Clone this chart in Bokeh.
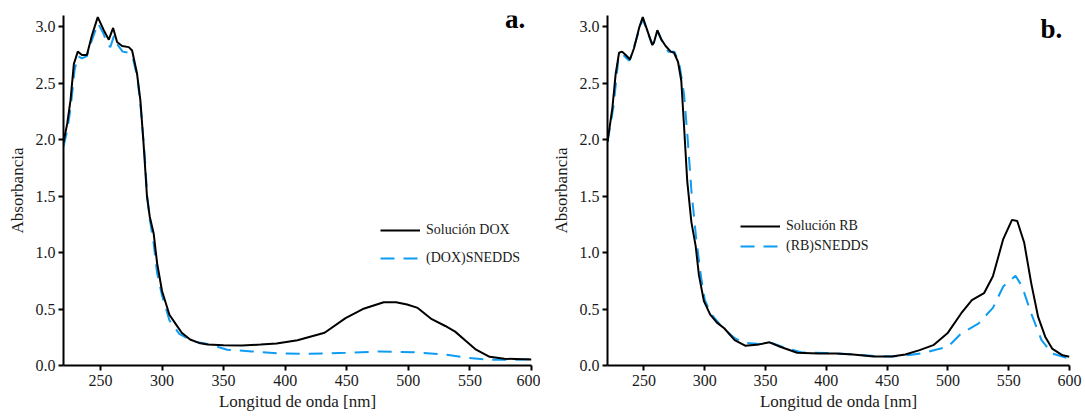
from bokeh.plotting import figure
from bokeh.layouts import row
from bokeh.models import Legend, LegendItem, Label, FixedTicker, PrintfTickFormatter, Range1d
from bokeh.embed import file_html
from bokeh.resources import INLINE

# ---- Panel a: DOX ----
wl_dox_sol = [220, 223, 225.7, 228.4, 231.6, 235, 239, 243, 247.8, 252.7, 256.8, 260.3, 263.5, 267.6,
              273, 275.7, 279.7, 282.4, 285, 287.8, 290, 293.2, 296, 300, 306, 311.6, 316, 322.8, 330,
              337, 350, 365, 380, 393, 410, 432, 449, 463, 480, 490, 499, 507.6, 519, 530, 538, 547,
              555, 566, 578, 600]
abs_dox_sol = [1.98, 2.14, 2.35, 2.67, 2.78, 2.75, 2.75, 2.92, 3.086, 2.97, 2.886, 2.99, 2.865, 2.83,
               2.82, 2.79, 2.586, 2.35, 1.967, 1.496, 1.32, 1.17, 0.907, 0.66, 0.45, 0.36, 0.29, 0.23, 0.2,
               0.186, 0.18, 0.177, 0.185, 0.195, 0.224, 0.29, 0.42, 0.5, 0.56, 0.56, 0.54, 0.51, 0.41,
               0.35, 0.30, 0.215, 0.14, 0.077, 0.06, 0.053]
wl_dox_sn = [220, 223, 226, 229, 232, 235, 239, 243, 248, 252, 256, 258, 261, 264, 268, 273, 276, 280,
             283, 286, 288, 290, 293, 296, 300, 306, 314, 325, 337, 353, 373, 398, 420, 449, 477, 505,
             530, 547, 566, 580, 600]
abs_dox_sn = [1.94, 2.08, 2.3, 2.62, 2.74, 2.72, 2.74, 2.88, 3.03, 2.95, 2.84, 2.82, 2.92, 2.84, 2.78,
              2.77, 2.74, 2.55, 2.25, 1.85, 1.5, 1.3, 1.1, 0.82, 0.62, 0.40, 0.28, 0.215, 0.19, 0.14,
              0.124, 0.106, 0.103, 0.112, 0.124, 0.118, 0.097, 0.07, 0.05, 0.05, 0.055]

# ---- Panel b: RB ----
wl_rb_sol = [220, 224, 226.7, 229.5, 232, 235, 238.5, 241.8, 246, 249, 253, 256.8, 258.2, 261, 264.2,
             267.8, 272, 274.7, 278, 280.7, 282.9, 285.6, 289, 292.5, 295.2, 299.3, 304.5, 310, 316,
             324.6, 333.2, 344.7, 353.3, 362, 376, 393.5, 407.8, 422, 439, 453.7, 465, 476.7, 488,
             499.6, 511, 519.7, 529.7, 537, 545.5, 552.7, 557, 562.7, 568.5, 574.2, 580, 585.7, 594.3, 600]
abs_rb_sol = [1.98, 2.28, 2.58, 2.77, 2.78, 2.75, 2.71, 2.81, 2.99, 3.086, 2.96, 2.84, 2.86, 2.97, 2.89,
              2.83, 2.78, 2.77, 2.69, 2.52, 2.13, 1.63, 1.27, 1.06, 0.80, 0.57, 0.45, 0.38, 0.33,
              0.225, 0.175, 0.187, 0.205, 0.166, 0.113, 0.107, 0.107, 0.098, 0.08, 0.08, 0.098, 0.136,
              0.18, 0.285, 0.463, 0.58, 0.64, 0.79, 1.12, 1.29, 1.28, 1.09, 0.73, 0.43, 0.255, 0.15,
              0.09, 0.077]
wl_rb_sn = [220, 225, 229, 232, 238, 242, 249, 253, 257, 261, 265, 270, 275, 279, 283, 286, 289, 293,
            297, 300, 305, 315, 325, 333, 345, 355, 365, 380, 400, 420, 440, 455, 470, 480, 490, 500,
            511, 525, 537, 545.5, 555.6, 561, 568.5, 577, 585.7, 600]
abs_rb_sn = [1.98, 2.3, 2.72, 2.76, 2.70, 2.83, 3.07, 2.95, 2.84, 2.96, 2.87, 2.78, 2.78, 2.68, 2.4,
             2.0, 1.55, 1.12, 0.78, 0.58, 0.46, 0.33, 0.24, 0.2, 0.19, 0.2, 0.16, 0.115, 0.11, 0.1,
             0.085, 0.08, 0.095, 0.11, 0.14, 0.166, 0.285, 0.37, 0.51, 0.70, 0.795, 0.70, 0.46, 0.225,
             0.107, 0.06]

x_ticks = [250, 300, 350, 400, 450, 500, 550, 600]
y_ticks = [0.0, 0.5, 1.0, 1.5, 2.0, 2.5, 3.0]

FONT = "Liberation Serif, serif"
BLUE = "#0E9CF2"


def panel(wa, ya, wb, yb, name_a, name_b, tag, tag_x, tag_y, leg_loc, leg_spacing,
          width, bl, br, bt, bb):
    p = figure(width=width, height=419, x_range=Range1d(220, 600), y_range=Range1d(0, 3.1),
               output_backend="svg", toolbar_location=None,
               min_border_left=bl, min_border_right=br, min_border_top=bt, min_border_bottom=bb)
    p.outline_line_color = None
    p.grid.visible = False
    p.background_fill_color = "white"
    p.border_fill_color = "white"

    r2 = p.line(wb, yb, line_color=BLUE, line_width=2, line_dash="14 9")
    r1 = p.line(wa, ya, line_color="black", line_width=2)

    for ax in (p.xaxis[0], p.yaxis[0]):
        ax.axis_line_width = 2
        ax.axis_line_color = "black"
        ax.major_tick_line_width = 2
        ax.major_tick_out = 5
        ax.major_tick_in = 0
        ax.minor_tick_line_color = None
        ax.major_label_text_font = FONT
        ax.major_label_text_font_size = "16px"
        ax.major_label_text_color = "#1a1a1a"
        ax.axis_label_text_font = FONT
        ax.axis_label_text_font_size = "17px"
        ax.axis_label_text_font_style = "normal"
        ax.axis_label_text_color = "#1a1a1a"
    p.xaxis.ticker = FixedTicker(ticks=x_ticks)
    p.yaxis.ticker = FixedTicker(ticks=y_ticks)
    p.yaxis.formatter = PrintfTickFormatter(format="%.1f")
    p.xaxis.axis_label = "Longitud de onda [nm]"
    p.yaxis.axis_label = "Absorbancia"
    p.xaxis.major_label_standoff = 4
    p.yaxis.major_label_standoff = 3
    p.xaxis.axis_label_standoff = 3
    p.yaxis.axis_label_standoff = 6

    leg = Legend(items=[LegendItem(label=name_a, renderers=[r1]),
                        LegendItem(label=name_b, renderers=[r2])],
                 location=leg_loc, orientation="vertical",
                 background_fill_alpha=0, border_line_color=None,
                 padding=0, margin=0, spacing=leg_spacing,
                 glyph_width=40, glyph_height=20, label_standoff=6,
                 label_text_font=FONT, label_text_font_size="14px", label_text_color="#1a1a1a")
    p.add_layout(leg)

    p.add_layout(Label(x=tag_x, y=tag_y, text=tag, text_align="right", text_baseline="alphabetic",
                       text_font=FONT, text_font_size="27px", text_font_style="bold",
                       text_color="black"))
    return p


pa = panel(wl_dox_sol, abs_dox_sol, wl_dox_sn, abs_dox_sn, "Solución DOX", "(DOX)SNEDDS",
           "a.", 595, 3.07, (317, 97), 8, 540, 63, 9, 14, 53)
pb = panel(wl_rb_sol, abs_rb_sol, wl_rb_sn, abs_rb_sn, "Solución RB", "(RB)SNEDDS",
           "b.", 594, 2.98, (133, 109), 0, 545, 67, 16, 15, 54)

layout = row(pa, pb)
open("out.html", "w").write(file_html(layout, INLINE))
